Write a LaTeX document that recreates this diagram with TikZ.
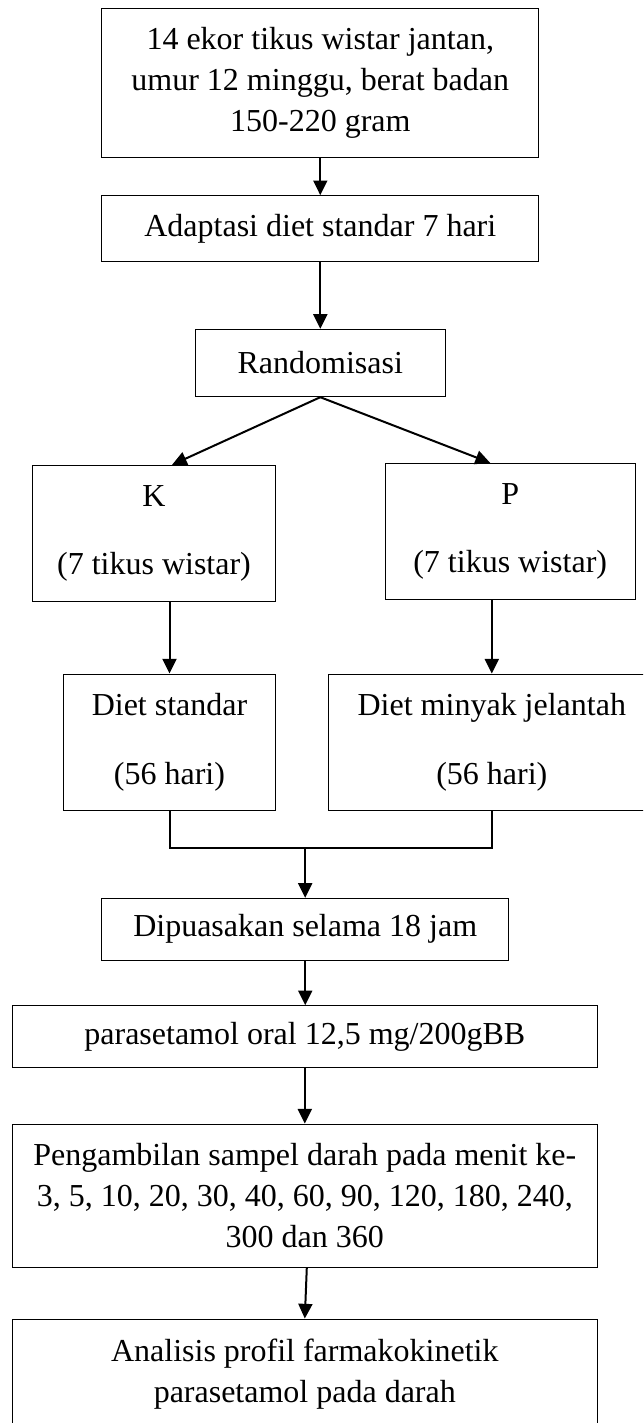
\documentclass[tikz,border=0pt]{standalone}
\usepackage{fontspec}
\setmainfont{Liberation Serif}
\usetikzlibrary{arrows.meta,calc}
\begin{document}
\begin{tikzpicture}[x=0.75pt,y=-0.75pt,
  every node/.style={font=\fontsize{24pt}{30.5pt}\selectfont},
  boxx/.style 2 args={draw=black,line width=0.75pt,inner sep=0pt,align=center,
    minimum width=#1*0.75pt,minimum height=#2*0.75pt},
  conn/.style={line width=1.5pt},
  arr/.style={line width=1.5pt,-{Triangle[width=10.5pt,length=11pt]}}]
\useasboundingbox (0,0) rectangle (643,1423);
\clip (0,0) rectangle (643,1423);
\fill[white] (0,0) rectangle (643,1423);

\node[boxx={437.3}{149}] (b1) at (320.3,82.8) {14 ekor tikus wistar jantan,\\umur 12 minggu, berat badan\\150-220 gram};
\node[boxx={437.3}{66}] (b2) at (320.3,228.7) {Adaptasi diet standar 7 hari};
\node[boxx={250}{67.4}] (b3) at (320.3,363) {Randomisasi};
\node[boxx={243.4}{136.4}] (K) at (154,533.5) {K\\[21pt](7 tikus wistar)};
\node[boxx={250.3}{136}] (P) at (510.2,531.3) {P\\[21pt](7 tikus wistar)};
\node[boxx={212.4}{136}] (DS) at (169.5,742) {Diet standar\\[21pt](56 hari)};
\node[boxx={326.3}{136}] (DM) at (491.8,742) {Diet minyak jelantah\\[21pt](56 hari)};
\node[boxx={407}{61.7}] (Dip) at (305.2,929.2) {Dipuasakan selama 18 jam};
\node[boxx={585}{62}] (Par) at (304.8,1036.7) {parasetamol oral 12,5 mg/200gBB};
\node[boxx={585}{143}] (Peng) at (304.8,1195.5) {Pengambilan sampel darah pada menit ke-\\3, 5, 10, 20, 30, 40, 60, 90, 120, 180, 240,\\300 dan 360};
\node[boxx={585}{110}] (Ana) at (304.8,1374) {Analisis profil farmakokinetik\\parasetamol pada darah};

\coordinate (j) at (305.2,847.7);

\draw[arr] (b1.south) -- (b2.north);
\draw[arr] (b2.south) -- (b3.north);
\draw[arr] (b3.south) -- ($(K.north west)!0.574!(K.north east)$);
\draw[arr] (b3.south) -- ($(P.north west)!0.42!(P.north east)$);
\draw[arr] (DS.north |- K.south) -- (DS.north);
\draw[arr] (DM.north |- P.south) -- (DM.north);
\draw[conn] (DS.south) |- (j) -| (DM.south);
\draw[arr] (j) -- (Dip.north);
\draw[arr] (Dip.south) -- (Dip.south |- Par.north);
\draw[arr] (Par.south) -- (Peng.north);
\draw[arr] ($(Peng.south)+(2,0)$) -- (Ana.north);
\end{tikzpicture}
\end{document}
